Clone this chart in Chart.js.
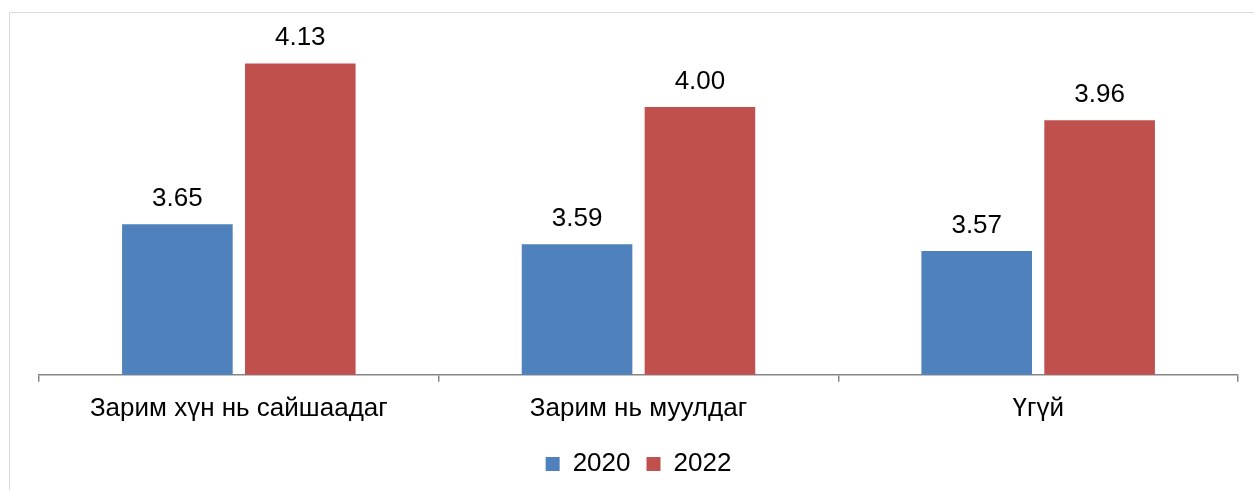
<!DOCTYPE html>
<html lang="mn">
<head>
  <meta charset="UTF-8">
  <title>2020 / 2022</title>
  <script src="https://cdn.jsdelivr.net/npm/chart.js"></script>
  <style>
    html, body { margin: 0; padding: 0; background: #fff; overflow: hidden; }
  </style>
</head>
<body>
  <canvas id="chart" width="1254" height="490"></canvas>

  <script>
    const categories = ['Зарим хүн нь сайшаадаг', 'Зарим нь муулдаг', 'Үгүй'];
    const values2020 = [3.65, 3.59, 3.57];
    const values2022 = [4.13, 4.00, 3.96];
    const seriesNames = ['2020', '2022'];

    const FONT = '"Liberation Sans", Arial, sans-serif';

    // outer light grey frame (cut off at right and bottom like the original)
    const frame = {
      id: 'frame',
      beforeDraw(chart) {
        const ctx = chart.ctx;
        ctx.save();
        ctx.strokeStyle = '#d9d9d9';
        ctx.lineWidth = 1;
        ctx.strokeRect(9.5, 12.5, chart.width + 20, chart.height + 20);
        ctx.restore();
      }
    };

    // value labels above the bars
    const valueLabels = {
      id: 'valueLabels',
      afterDatasetsDraw(chart) {
        const ctx = chart.ctx;
        ctx.save();
        ctx.font = '26px ' + FONT;
        ctx.fillStyle = '#000';
        ctx.textAlign = 'center';
        ctx.textBaseline = 'alphabetic';
        chart.data.datasets.forEach((ds, i) => {
          chart.getDatasetMeta(i).data.forEach((bar, j) => {
            ctx.fillText(ds.data[j].toFixed(2), bar.x, bar.y - 18);
          });
        });
        ctx.restore();
      }
    };

    new Chart(document.getElementById('chart'), {
      type: 'bar',
      data: {
        labels: categories,
        datasets: [
          { label: seriesNames[0], data: values2020, backgroundColor: '#4F81BD' },
          { label: seriesNames[1], data: values2022, backgroundColor: '#C0504D' }
        ]
      },
      options: {
        responsive: false,
        animation: false,
        events: [],
        categoryPercentage: 0.615,
        barPercentage: 0.9,
        layout: { padding: { left: 39, right: 16, top: 40, bottom: 3 } },
        scales: {
          y: { display: false, min: 3.2, max: 4.2 },
          x: {
            offset: true,
            border: { display: true, color: '#868686', width: 1.5 },
            grid: { offset: true, drawOnChartArea: false, drawTicks: true, tickLength: 7, color: '#868686', lineWidth: 1.5 },
            ticks: { color: '#000', font: { family: FONT, size: 26 }, padding: 11, maxRotation: 0 }
          }
        },
        plugins: {
          legend: {
            position: 'bottom',
            labels: {
              color: '#000',
              font: { family: FONT, size: 26 },
              boxWidth: 14,
              boxHeight: 14,
              padding: 16,
              useBorderRadius: false
            }
          },
          tooltip: { enabled: false }
        }
      },
      plugins: [frame, valueLabels]
    });
  </script>
</body>
</html>
